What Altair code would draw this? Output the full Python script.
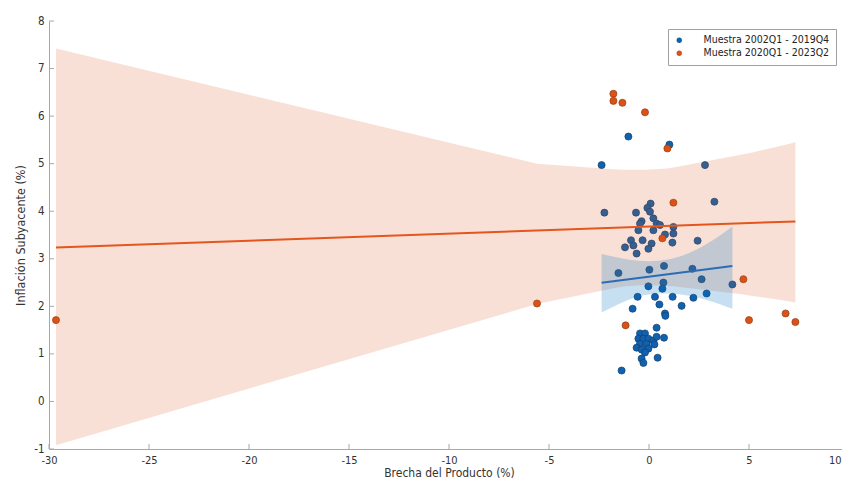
import altair as alt
import pandas as pd

LAB_B = "Muestra 2002Q1 - 2019Q4"
LAB_O = "Muestra 2020Q1 - 2023Q2"

# Sample 2002Q1-2019Q4 (blue)
blue_x = [-2.37, -1.03, 1.02, 2.80, 3.27,
          -2.23, -0.65, 0.08, -0.08, 0.05, -0.37, -0.45, 0.22, 0.38, 0.55,
          -0.53, 0.22, 1.22, 1.22, 0.80, -0.90, -0.32, -0.78, -1.20, 0.13,
          -0.03, 1.17, 2.43, -0.62, -1.53, 0.02, 0.75, 2.17, 2.63, 4.17,
          0.72, 0.67, -0.03, -0.57, 0.30, 1.18, 2.22, 2.88, 0.52, 1.63,
          -0.82, 0.80, 0.82, 0.38,
          -0.45, -0.20, -0.53, -0.28, -0.03, 0.22, 0.38, 0.75, -0.45, -0.12,
          0.27, -0.62, -0.37, -0.03, -0.20, -0.37, -0.28, 0.43, -1.37]
blue_y = [4.97, 5.57, 5.40, 4.97, 4.20,
          3.97, 3.97, 4.16, 4.07, 3.99, 3.79, 3.74, 3.85, 3.74, 3.71,
          3.60, 3.60, 3.67, 3.53, 3.51, 3.39, 3.39, 3.28, 3.24, 3.32,
          3.21, 3.34, 3.38, 3.11, 2.70, 2.77, 2.85, 2.79, 2.57, 2.46,
          2.50, 2.37, 2.42, 2.20, 2.20, 2.20, 2.18, 2.27, 2.04, 2.01,
          1.95, 1.85, 1.80, 1.55,
          1.43, 1.43, 1.32, 1.32, 1.32, 1.28, 1.36, 1.34, 1.21, 1.21,
          1.20, 1.13, 1.09, 1.11, 1.03, 0.90, 0.81, 0.92, 0.65]

# Sample 2020Q1-2023Q2 (orange)
orange_x = [-29.65, -5.60, -1.78, -1.78, -1.33, -0.20, 0.92, 1.22, 0.67,
            4.72, 5.00, 6.83, 7.32, -1.17]
orange_y = [1.71, 2.06, 6.47, 6.32, 6.28, 6.08, 5.32, 4.18, 3.43,
            2.57, 1.71, 1.85, 1.67, 1.60]

# Confidence bands
band_o_x = [-29.65, -5.60, -1.78, -1.17, -0.20, 0.92, 1.22, 4.72, 5.00, 6.83, 7.32]
band_o_lo = [-0.92, 2.05, 2.38, 2.42, 2.45, 2.43, 2.42, 2.25, 2.23, 2.12, 2.08]
band_o_hi = [7.42, 5.00, 4.88, 4.87, 4.87, 4.90, 4.92, 5.20, 5.22, 5.40, 5.45]

band_b_x = [-2.37, -1.5, -1.0, -0.5, 0.0, 0.5, 1.0, 2.0, 3.0, 4.17]
band_b_lo = [1.87, 2.05, 2.14, 2.21, 2.25, 2.27, 2.27, 2.22, 2.12, 1.95]
band_b_hi = [3.10, 3.02, 2.98, 2.96, 2.95, 2.96, 2.99, 3.12, 3.34, 3.68]

x_ticks = [-30, -25, -20, -15, -10, -5, 0, 5, 10]
y_ticks = [-1, 0, 1, 2, 3, 4, 5, 6, 7, 8]

BLUE = "#1162AE"
ORANGE = "#D95319"
FONT = "DejaVu Sans Condensed, Roboto, sans-serif"

pts = pd.DataFrame({
    "x": blue_x + orange_x,
    "y": blue_y + orange_y,
    "serie": [LAB_B] * len(blue_x) + [LAB_O] * len(orange_x),
})
band_o = pd.DataFrame({"x": band_o_x, "lo": band_o_lo, "hi": band_o_hi})
band_b = pd.DataFrame({"x": band_b_x, "lo": band_b_lo, "hi": band_b_hi})
xt = pd.DataFrame({"t": x_ticks})
yt = pd.DataFrame({"t": y_ticks})

W, H = 793, 428
XR = 800  # full axis length; the right end runs past the page edge as in the original
xs = alt.Scale(domain=[-30, 10], range=[0, XR], nice=False, zero=False)
ys = alt.Scale(domain=[-1, 8], nice=False, zero=False)

x_axis = alt.Axis(values=x_ticks, ticks=False, grid=False, domainColor="#a8a8a8",
                  labelColor="#333333", labelFontSize=11, labelPadding=5,
                  labelAlign={"condition": {"test": "datum.value == 10", "value": "right"},
                              "value": "center"},
                  labelOffset={"condition": {"test": "datum.value == 10", "value": -8},
                               "value": 0},
                  labelExpr="'' + datum.value", title="Brecha del Producto (%)",
                  titleFontSize=12, titleFontWeight="normal", titleColor="#333333",
                  titlePadding=2, labelFont=FONT, titleFont=FONT)
y_axis = alt.Axis(values=y_ticks, ticks=False, grid=False, domainColor="#a8a8a8",
                  labelColor="#333333", labelFontSize=11.5, labelPadding=5,
                  labelExpr="'' + datum.value", title="Inflación Subyacente (%)",
                  titleFontSize=12.5, titleFontWeight="normal", titleColor="#333333",
                  titlePadding=6, labelFont=FONT, titleFont=FONT)

points = alt.Chart(pts).mark_circle(size=50, opacity=1, strokeWidth=0.7).encode(
    x=alt.X("x:Q", scale=xs, axis=x_axis),
    y=alt.Y("y:Q", scale=ys, axis=y_axis),
    color=alt.Color("serie:N",
                    scale=alt.Scale(domain=[LAB_B, LAB_O], range=[BLUE, ORANGE]),
                    legend=alt.Legend(orient="none", legendX=619, legendY=8, title=None,
                                      strokeColor="#a0a0a0", fillColor="white",
                                      padding=6, labelFontSize=10.5, labelFont=FONT,
                                      labelColor="#222222", symbolSize=28,
                                      symbolType="circle", symbolStrokeWidth=0,
                                      labelOffset=19, rowPadding=2)),
    stroke=alt.Stroke("serie:N",
                      scale=alt.Scale(domain=[LAB_B, LAB_O], range=["#123f6e", "#9a3a10"]),
                      legend=None),
)

area_o = alt.Chart(band_o).mark_area(color=ORANGE, opacity=0.18).encode(
    x=alt.X("x:Q", scale=xs), y=alt.Y("lo:Q", scale=ys), y2="hi:Q")
area_b = alt.Chart(band_b).mark_area(color="#0072BD", opacity=0.22,
                                     interpolate="monotone").encode(
    x=alt.X("x:Q", scale=xs), y=alt.Y("lo:Q", scale=ys), y2="hi:Q")

line_o = alt.Chart(pts).transform_filter(alt.datum.serie == LAB_O).transform_regression(
    "x", "y").mark_line(color="#E4561C", strokeWidth=2).encode(
    x=alt.X("x:Q", scale=xs), y=alt.Y("y:Q", scale=ys))
line_b = alt.Chart(pts).transform_filter(alt.datum.serie == LAB_B).transform_regression(
    "x", "y").mark_line(color="#2C6CB4", strokeWidth=2).encode(
    x=alt.X("x:Q", scale=xs), y=alt.Y("y:Q", scale=ys))

xtick = alt.Chart(xt).mark_rule(color="#a8a8a8", strokeWidth=1).encode(
    x=alt.X("t:Q", scale=xs), y=alt.value(H - 5), y2=alt.value(H))
ytick = alt.Chart(yt).mark_rule(color="#a8a8a8", strokeWidth=1).encode(
    y=alt.Y("t:Q", scale=ys), x=alt.value(0), x2=alt.value(5))

chart = alt.layer(points, area_o, area_b, line_o, line_b, xtick, ytick).properties(
    width=W, height=H,
    autosize=alt.AutoSizeParams(type="none"),
    padding={"left": 41, "top": 13, "right": 0, "bottom": 31},
    background="white",
).configure_view(strokeWidth=0)

chart.save("out.html", embed_options={"renderer": "svg", "actions": False})
